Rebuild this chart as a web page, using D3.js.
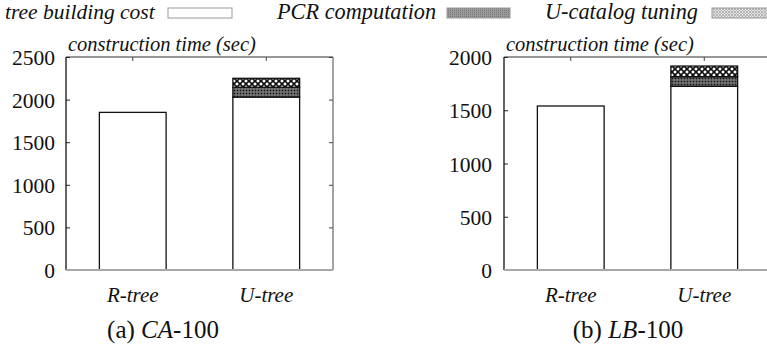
<!DOCTYPE html>
<html><head><meta charset="utf-8">
<script src="https://cdn.jsdelivr.net/npm/d3@7"></script>
<style>
html,body{margin:0;padding:0;background:#fff;}
svg text{font-family:"Liberation Serif","Times New Roman",serif;}
</style></head>
<body><svg id="c" width="767" height="354"></svg>
<script>
const categories = ["R-tree", "U-tree"];
const seriesNames = ["tree building cost", "PCR computation", "U-catalog tuning"];
const seriesKeys = ["tree", "pcr", "catalog"];
// (a) CA-100
const caTree = [1850, 2030];
const caPCR = [0, 115];
const caCatalog = [0, 105];
const caTicks = [0, 500, 1000, 1500, 2000, 2500];
// (b) LB-100
const lbTree = [1540, 1725];
const lbPCR = [0, 90];
const lbCatalog = [0, 100];
const lbTicks = [0, 500, 1000, 1500, 2000];
const yTitle = "construction time (sec)";

const svg = d3.select("#c");
const defs = svg.append("defs");

const pPCR = defs.append("pattern").attr("id","pcr").attr("patternUnits","userSpaceOnUse").attr("width",3).attr("height",3);
pPCR.append("rect").attr("width",3).attr("height",3).attr("fill","#5a5a5a");
pPCR.append("rect").attr("width",1).attr("height",1).attr("fill","#111");
pPCR.append("rect").attr("x",1.5).attr("y",1.5).attr("width",1).attr("height",1).attr("fill","#bbb");
const pCat = defs.append("pattern").attr("id","cat").attr("patternUnits","userSpaceOnUse").attr("width",6).attr("height",6);
pCat.append("rect").attr("width",6).attr("height",6).attr("fill","#fff");
pCat.append("path").attr("d","M0,0L6,6M6,0L0,6").attr("stroke","#111").attr("stroke-width",1.6);
const lPCR = defs.append("pattern").attr("id","lpcr").attr("patternUnits","userSpaceOnUse").attr("width",2).attr("height",2);
lPCR.append("rect").attr("width",2).attr("height",2).attr("fill","#9a9a9a");
lPCR.append("rect").attr("width",1).attr("height",1).attr("fill","#777");
const lCat = defs.append("pattern").attr("id","lcat").attr("patternUnits","userSpaceOnUse").attr("width",3).attr("height",3);
lCat.append("rect").attr("width",3).attr("height",3).attr("fill","#e4e4e4");
lCat.append("path").attr("d","M0,0L3,3M3,0L0,3").attr("stroke","#aaa").attr("stroke-width",0.8);

const fills = {tree:"#fff", pcr:"url(#pcr)", catalog:"url(#cat)"};
const legendFills = {tree:"#fff", pcr:"url(#lpcr)", catalog:"url(#lcat)"};

function txt(sel, x, y, size, italic, str, anchor){
  const t = sel.append("text").attr("x",x).attr("y",y).attr("font-size",size)
    .attr("font-family","Liberation Serif").attr("fill","#111");
  if (italic) t.attr("font-style","italic");
  if (anchor) t.attr("text-anchor",anchor);
  if (str !== undefined) t.text(str);
  return t;
}

const legendItems = [
  {x0:5, box:168, bw:64, size:21.5},
  {x0:277, box:447, bw:63, size:22.3},
  {x0:545, box:712, bw:62, size:22.3}
];
seriesNames.forEach((n,i)=>{
  const it = legendItems[i];
  txt(svg, it.x0, 19, it.size, true, n);
  svg.append("rect").attr("x",it.box).attr("y",8).attr("width",it.bw).attr("height",10)
    .attr("fill",legendFills[seriesKeys[i]]).attr("stroke","#999").attr("stroke-width",1);
});

function panel(o){
  const {left, right, top, bottom, maxV, ticks, tree, pcr, cat, capLetter, capItalic, capRest, capX, labelX} = o;
  const g = svg.append("g");
  const x = d3.scaleBand().domain(categories).range([left,right]).paddingInner(0.5).paddingOuter(0.25);
  const y = d3.scaleLinear().domain([0,maxV]).range([bottom,top]);
  const rows = categories.map((c,i)=>({cat:c, tree:tree[i], pcr:pcr[i], catalog:cat[i]}));
  const stack = d3.stack().keys(seriesKeys)(rows);

  stack.forEach(layer=>{
    g.selectAll(null).data(layer.filter(d=>d[1]-d[0]>0)).join("rect")
      .attr("x",d=>x(d.data.cat)).attr("width",x.bandwidth())
      .attr("y",d=>y(d[1])).attr("height",d=>y(d[0])-y(d[1]))
      .attr("fill",fills[layer.key]).attr("stroke","#111").attr("stroke-width",1.3);
  });

  const ax = d3.axisLeft(y).tickValues(ticks).tickSize(-4).tickFormat(d3.format("d"));
  const ag = g.append("g").attr("transform",`translate(${left},0)`).call(ax);
  ag.attr("font-family","Liberation Serif");
  ag.select(".domain").remove();
  ag.selectAll(".tick line").attr("stroke","#222");
  ag.selectAll(".tick text").attr("font-size",21.5).attr("fill","#111")
    .attr("x",labelX - left).attr("dy","0.35em");
  const ar = d3.axisRight(y).tickValues(ticks).tickSize(-4).tickFormat("");
  const arg = g.append("g").attr("transform",`translate(${right},0)`).call(ar);
  arg.select(".domain").remove();
  arg.selectAll(".tick line").attr("stroke","#444");
  const at = d3.axisTop(x).tickSize(-4).tickFormat("");
  const atg = g.append("g").attr("transform",`translate(0,${top})`).call(at);
  atg.select(".domain").remove();
  atg.selectAll(".tick line").attr("stroke","#444");
  const ab = d3.axisBottom(x).tickSize(0).tickPadding(17);
  const abg = g.append("g").attr("transform",`translate(0,${bottom})`).call(ab);
  abg.attr("font-family","Liberation Serif");
  abg.select(".domain").remove();
  abg.selectAll(".tick text").attr("font-size",21).attr("font-style","italic").attr("fill","#111");

  g.append("line").attr("x1",left).attr("x2",left).attr("y1",top).attr("y2",bottom).attr("stroke","#111").attr("stroke-width",1.3);
  g.append("line").attr("x1",left).attr("x2",right).attr("y1",top).attr("y2",top).attr("stroke","#333").attr("stroke-width",1.2);
  g.append("line").attr("x1",right).attr("x2",right).attr("y1",top).attr("y2",bottom).attr("stroke","#666").attr("stroke-width",1.2);
  g.append("line").attr("x1",left).attr("x2",right).attr("y1",bottom).attr("y2",bottom).attr("stroke","#a8a8a8").attr("stroke-width",2);

  txt(g, left+2, top-6, 20.5, true, yTitle);

  const t = txt(g, capX, 338, 25, false, undefined, "middle");
  t.append("tspan").text(capLetter);
  t.append("tspan").attr("font-style","italic").text(capItalic);
  t.append("tspan").text(capRest);
}

panel({left:66, right:333, top:57, bottom:270, maxV:2500, ticks:caTicks,
  tree:caTree, pcr:caPCR, cat:caCatalog, capLetter:"(a) ", capItalic:"CA", capRest:"-100", capX:163, labelX:55});
panel({left:504, right:771, top:57, bottom:270, maxV:2000, ticks:lbTicks,
  tree:lbTree, pcr:lbPCR, cat:lbCatalog, capLetter:"(b) ", capItalic:"LB", capRest:"-100", capX:628, labelX:492});
</script>
</body></html>
